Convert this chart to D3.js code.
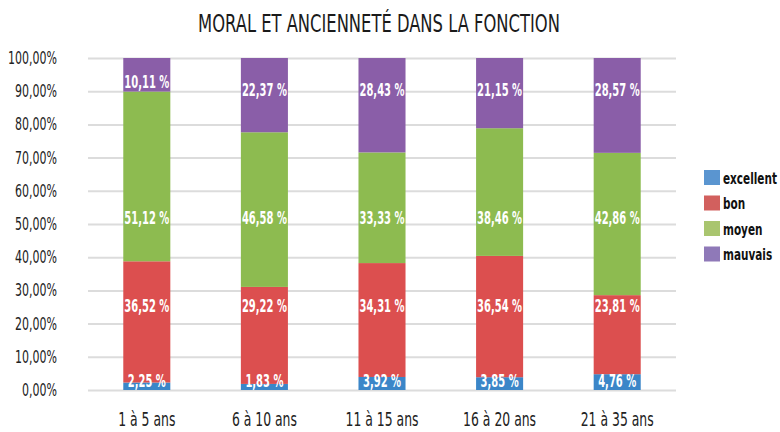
<!DOCTYPE html>
<html lang="fr">
<head>
<meta charset="utf-8">
<title>Moral et ancienneté dans la fonction</title>
<script src="https://d3js.org/d3.v7.min.js"></script>
<style>
  body { margin: 0; background: #fff; }
  svg { display: block; }
  text { font-family: "DejaVu Sans Condensed", "DejaVu Sans", sans-serif; }
</style>
</head>
<body>
<div id="chart"></div>
<script>
// ---- data ----
const categories = ["1 à 5 ans", "6 à 10 ans", "11 à 15 ans", "16 à 20 ans", "21 à 35 ans"];
const seriesNames = ["excellent", "bon", "moyen", "mauvais"];
const excellent = [2.25, 1.83, 3.92, 3.85, 4.76];
const bon = [36.52, 29.22, 34.31, 36.54, 23.81];
const moyen = [51.12, 46.58, 33.33, 38.46, 42.86];
const mauvais = [10.11, 22.37, 28.43, 21.15, 28.57];
const yTicks = [0, 10, 20, 30, 40, 50, 60, 70, 80, 90, 100];

// ---- layout ----
const width = 780, height = 432;
const margin = {top: 58, right: 104, bottom: 42, left: 88};
const barColors = ["#3b86c8", "#dc4f4f", "#8dbb50", "#8a5ea8"];
const legendColors = ["#5a95d0", "#d2605e", "#a9c56f", "#8f79b8"];
// row (in % units) where each series' labels sit, clamped inside the segment
const labelRow = {excellent: 2.7, bon: 25.3, moyen: 51.8, mauvais: 90.5};

const rows = categories.map((c, i) => ({
  cat: c, excellent: excellent[i], bon: bon[i], moyen: moyen[i], mauvais: mauvais[i]
}));
const stacked = d3.stack().keys(seriesNames)(rows);

const svg = d3.select("#chart").append("svg")
  .attr("width", width)
  .attr("height", height);

const x = d3.scaleBand()
  .domain(categories)
  .range([margin.left, width - margin.right])
  .paddingInner(0.6)
  .paddingOuter(0.3);

const y = d3.scaleLinear()
  .domain([0, 100])
  .range([height - margin.bottom, margin.top]);

const fmt = v => d3.format(".2f")(v).replace(".", ",");

// the original uses a very condensed face: scale the glyphs horizontally
// (around each text's anchor) so the reference string gets its width
function squeeze(sel, refText, target) {
  let ref = null;
  sel.each(function() { if (this.textContent === refText) ref = this; });
  const k = target / ref.getComputedTextLength();
  sel.each(function() {
    const ax = +this.getAttribute("x") || 0;
    d3.select(this).attr("transform", `translate(${ax},0) scale(${k},1) translate(${-ax},0)`);
  });
}

// title
const title = svg.append("text")
  .attr("x", 379)
  .attr("y", 32)
  .attr("text-anchor", "middle")
  .attr("font-size", 25)
  .attr("fill", "#1a1a1a")
  .text("MORAL ET ANCIENNETÉ DANS LA FONCTION");
squeeze(title, "MORAL ET ANCIENNETÉ DANS LA FONCTION", 362);

// grid + y labels
const yAxis = svg.append("g")
  .attr("transform", `translate(${margin.left},0)`)
  .call(d3.axisLeft(y).tickValues(yTicks)
    .tickSize(-(width - margin.right - margin.left))
    .tickPadding(31)
    .tickFormat(d => fmt(d) + "%"));
yAxis.select(".domain").remove();
yAxis.selectAll(".tick line").attr("stroke", "#dcdcdc").attr("stroke-width", 2);
yAxis.selectAll(".tick text")
  .attr("font-size", 17)
  .attr("fill", "#222")
  .style("font-family", "'DejaVu Sans Condensed', 'DejaVu Sans', sans-serif");
squeeze(yAxis.selectAll(".tick text"), "100,00%", 49);

// x labels
const xAxis = svg.append("g")
  .attr("transform", `translate(0,${height - margin.bottom})`)
  .call(d3.axisBottom(x).tickSize(0).tickPadding(22));
xAxis.select(".domain").remove();
xAxis.selectAll(".tick text")
  .attr("font-size", 20)
  .attr("fill", "#222")
  .style("font-family", "'DejaVu Sans Condensed', 'DejaVu Sans', sans-serif");
squeeze(xAxis.selectAll(".tick text"), "16 à 20 ans", 73);

// bars
const layers = svg.append("g").selectAll("g")
  .data(stacked)
  .join("g")
  .attr("fill", (d, i) => barColors[i]);

layers.selectAll("rect")
  .data(d => d)
  .join("rect")
  .attr("x", d => x(d.data.cat))
  .attr("width", x.bandwidth())
  .attr("y", d => y(d[1]))
  .attr("height", d => y(d[0]) - y(d[1]));

// value labels
const pad = 3;
const valueLabels = svg.append("g");
stacked.forEach(layer => {
  const key = layer.key;
  valueLabels.append("g").selectAll("text")
    .data(layer)
    .join("text")
    .attr("x", d => x(d.data.cat) + x.bandwidth() / 2)
    .attr("y", d => {
      let v = labelRow[key];
      if (d[1] - d[0] > 2 * pad) v = Math.max(d[0] + pad, Math.min(d[1] - pad, v));
      return y(v);
    })
    .attr("dy", "0.36em")
    .attr("text-anchor", "middle")
    .attr("font-size", 18)
    .attr("font-weight", "bold")
    .attr("fill", "#fff")
    .text(d => fmt(d.data[key]) + " %");
});
squeeze(valueLabels.selectAll("text"), "36,52 %", 45);

// legend
const legend = svg.append("g").attr("transform", "translate(704,170)");
const item = legend.selectAll("g")
  .data(seriesNames)
  .join("g")
  .attr("transform", (d, i) => `translate(0,${i * 25.5})`);
item.append("rect")
  .attr("width", 16).attr("height", 15)
  .attr("fill", (d, i) => legendColors[i]);
item.append("text")
  .attr("x", 19).attr("y", 8)
  .attr("dy", "0.36em")
  .attr("font-size", 16)
  .attr("font-weight", "bold")
  .attr("fill", "#111")
  .text(d => d);
squeeze(item.selectAll("text"), "excellent", 54);
</script>
</body>
</html>
